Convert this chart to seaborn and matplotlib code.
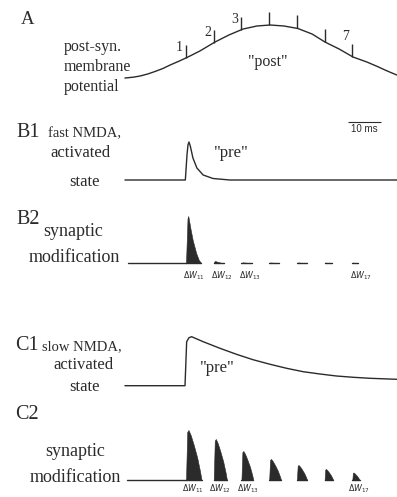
import numpy as np
import matplotlib
matplotlib.use("Agg")
import matplotlib.pyplot as plt
import seaborn as sns

# ---------------- data ----------------
PAIR_TIMES_MS = [0.0, 8.4, 16.8, 25.2, 33.6, 42.0, 50.4]
TICK_NUMBERS = ["1", "2", "3", "", "", "", "7"]

# A: post-synaptic membrane potential ("post")
POST_T = [-18.5, -16.0, -13.9, -11.6, -9.4, -7.0, -4.8, -2.0, 0.6, 4.2, 8.8, 13.0,
          17.3, 21.5, 25.5, 29.7, 33.9, 38.2, 42.1, 46.4, 50.6, 54.8, 58.0, 60.3, 62.2, 63.9]
POST_V = [0.0, 0.8, 2.0, 4.0, 6.5, 9.5, 13.0, 17.0, 21.0, 27.0, 36.0, 43.0,
          49.0, 52.0, 53.0, 52.0, 49.5, 44.0, 36.0, 29.0, 21.0, 16.0, 11.5, 8.0, 5.3, 3.0]

# B1: fast NMDA activated state ("pre")
FAST_T = [-18.5, -0.2, 0.3, 0.6, 0.9, 1.3, 2.1, 3.3, 5.2, 8.2, 13.3, 63.9]
FAST_V = [0.0, 0.0, 25.0, 35.0, 38.0, 34.0, 22.0, 12.0, 5.0, 1.5, 0.0, 0.0]

# C1: slow NMDA activated state ("pre")
SLOW_T = [-18.5, -0.3, 0.2, 0.9, 1.7, 5.2, 10.3, 15.3, 20.3, 25.5, 30.5, 35.5,
          40.6, 45.6, 50.7, 55.8, 63.9]
SLOW_V = [0.0, 0.0, 44.0, 48.0, 49.0, 44.0, 37.4, 31.4, 26.0, 21.4, 17.4, 14.0,
          11.7, 9.7, 8.4, 7.4, 6.4]

# B2 / C2: synaptic modification per pairing (height, width in ms)
B2_HEIGHTS = [47.0, 2.0, 0.6, 0.5, 0.5, 0.4, 0.4]
B2_WIDTHS_MS = [4.6, 3.0, 3.3, 3.0, 3.0, 2.1, 1.8]
C2_HEIGHTS = [50.0, 41.0, 29.0, 21.0, 15.0, 11.0, 7.5]
C2_WIDTHS_MS = [4.7, 4.0, 3.6, 3.6, 3.1, 2.6, 2.2]

# shapes of one modification event (relative time, relative height)
FAST_SHAPE_X = [0.0, 0.1, 0.15, 0.3, 0.44, 0.67, 0.85, 1.0]
FAST_SHAPE_Y = [0.0, 0.95, 1.0, 0.72, 0.49, 0.21, 0.06, 0.0]
SLOW_SHAPE_X = [0.0, 0.08, 0.16, 0.3, 0.5, 0.72, 0.9, 1.0]
SLOW_SHAPE_Y = [0.0, 0.96, 1.0, 0.9, 0.7, 0.45, 0.18, 0.0]

DW_LABELS = [r"$\Delta W_{11}$", r"$\Delta W_{12}$", r"$\Delta W_{13}$", "", "", "", r"$\Delta W_{17}$"]
SCALE_BAR_MS = 10

# ---------------- style ----------------
sns.set_theme(style="white")
plt.rcParams["font.family"] = ["Liberation Serif", "DejaVu Serif"]
plt.rcParams["mathtext.fontset"] = "dejavusans"
INK = "#2b2b2b"
LW = 1.0

W, H = 397, 497
fig = plt.figure(figsize=(W / 100, H / 100), dpi=100)
fig.patch.set_facecolor("white")

X0_PX = 186.0
PX_PER_MS = 3.3
XLIM = ((0 - X0_PX) / PX_PER_MS, (W - X0_PX) / PX_PER_MS)


def panel(top, bottom, base):
    ax = fig.add_axes([0, 1 - bottom / H, 1, (bottom - top) / H])
    ax.set_xlim(*XLIM)
    ax.set_ylim(base - bottom, base - top)
    ax.axis("off")
    ax.patch.set_alpha(0)
    return ax


def label(s, x, y, size, ha="left", va="center", **kw):
    fig.text(x / W, 1 - y / H, s, fontsize=size, ha=ha, va=va, color=INK, **kw)


def curve(ax, t, v):
    sns.lineplot(x=t, y=v, ax=ax, color=INK, lw=LW, estimator=None, sort=False)


def events(ax, heights, widths, sx, sy, start):
    sns.lineplot(x=[start, PAIR_TIMES_MS[0]], y=[0, 0], ax=ax, color=INK, lw=LW,
                 estimator=None, sort=False)
    for t, h, w in zip(PAIR_TIMES_MS, heights, widths):
        xs = t + np.asarray(sx) * w
        ys = h * np.asarray(sy)
        ax.fill_between(xs, 0, ys, color=INK, lw=0.4, edgecolor=INK)
        sns.lineplot(x=[t, t + w], y=[0, 0], ax=ax, color=INK, lw=LW,
                     estimator=None, sort=False)


# ---------------- A ----------------
axA = panel(0, 100, 78)
curve(axA, POST_T, POST_V)
tick_base = np.interp(PAIR_TIMES_MS, POST_T, POST_V)
axA.vlines(PAIR_TIMES_MS, tick_base, tick_base + 13, color=INK, lw=LW)
for t, b, s in zip(PAIR_TIMES_MS, tick_base, TICK_NUMBERS):
    if s:
        dy = 20 if s == "7" else 10
        axA.text(t - 1.9, b + dy, s, fontsize=10, ha="center", va="center", color=INK)
label("A", 21, 19, 13.5)
label("post-syn.", 64, 47, 11.5)
label("membrane", 64, 67, 11.5)
label("potential", 64, 87, 11.5)
label('"post"', 268, 62, 11.5, ha="center")

# ---------------- B1 ----------------
axB1 = panel(110, 190, 180)
curve(axB1, FAST_T, FAST_V)
bar_x0 = (348 - X0_PX) / PX_PER_MS
axB1.hlines(180 - 121.7, bar_x0, bar_x0 + SCALE_BAR_MS, color=INK, lw=0.8)
axB1.text(bar_x0 + SCALE_BAR_MS / 2, 180 - 123.5, f"{SCALE_BAR_MS} ms", fontsize=7,
          ha="center", va="top", color=INK, family="Liberation Sans")
label("B1", 16, 137, 14.5, va="baseline")
label("fast NMDA,", 48, 137, 10.5, va="baseline")
label("activated", 80, 153, 12, ha="center")
label("state", 85, 182, 12, ha="center")
label('"pre"', 231, 153, 12, ha="center")

# ---------------- B2 ----------------
axB2 = panel(200, 285, 263)
events(axB2, B2_HEIGHTS, B2_WIDTHS_MS, FAST_SHAPE_X, FAST_SHAPE_Y, (128 - X0_PX) / PX_PER_MS)
for t, s in zip(PAIR_TIMES_MS, DW_LABELS):
    if s:
        axB2.text(t + 2.5, 263 - 276, s, fontsize=5.8, ha="center", va="center", color=INK)
label("B2", 16, 224, 14.5, va="baseline")
label("synaptic", 43, 232, 13)
label("modification", 29, 257, 13)

# ---------------- C1 ----------------
axC1 = panel(320, 395, 385.7)
curve(axC1, SLOW_T, SLOW_V)
label("C1", 15, 350, 14.5, va="baseline")
label("slow NMDA,", 42, 350, 10.5, va="baseline")
label("activated", 83, 365, 12, ha="center")
label("state", 85, 387, 12, ha="center")
label('"pre"', 217, 368, 12, ha="center")

# ---------------- C2 ----------------
axC2 = panel(400, 497, 480)
events(axC2, C2_HEIGHTS, C2_WIDTHS_MS, SLOW_SHAPE_X, SLOW_SHAPE_Y, (127 - X0_PX) / PX_PER_MS)
for t, s in zip(PAIR_TIMES_MS, DW_LABELS):
    if s:
        axC2.text(t + 2.0, 480 - 489, s, fontsize=5.8, ha="center", va="center", color=INK)
label("C2", 15, 419, 14.5, va="baseline")
label("synaptic", 45, 452, 13)
label("modification", 30, 477, 13)

fig.savefig("out.png", dpi=100, facecolor="white")
